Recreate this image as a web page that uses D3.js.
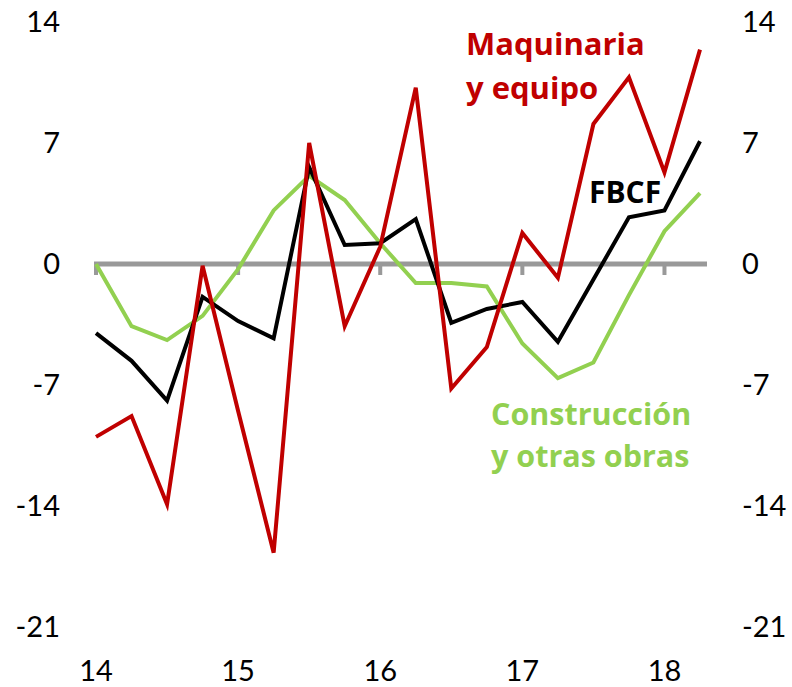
<!DOCTYPE html>
<html>
<head>
<meta charset="utf-8">
<script src="https://cdn.jsdelivr.net/npm/d3@7"></script>
<style>
  body { margin: 0; background: #fff; }
  text { font-family: Lato, "Open Sans", sans-serif; }
  .lbl { font-family: "Open Sans", Lato, sans-serif; }
</style>
</head>
<body>
<div id="chart"></div>
<script>
// quarters 2014Q1 .. 2018Q2
var quarters = ["14T1","14T2","14T3","14T4","15T1","15T2","15T3","15T4",
                "16T1","16T2","16T3","16T4","17T1","17T2","17T3","17T4","18T1","18T2"];
var maquinaria = [-10.0, -8.8, -13.9, -0.1, -8.5, -16.7, 7.0, -3.6, 1.0, 10.2,
                  -7.2, -4.8, 1.8, -0.8, 8.1, 10.8, 5.3, 12.4];
var fbcf = [-4.0, -5.6, -7.9, -1.9, -3.3, -4.3, 5.6, 1.1, 1.2, 2.6,
            -3.4, -2.6, -2.2, -4.5, -0.9, 2.7, 3.1, 7.1];
var construccion = [0.0, -3.6, -4.4, -3.0, -0.3, 3.1, 5.1, 3.7, 1.2, -1.1,
                    -1.1, -1.3, -4.6, -6.6, -5.7, -1.8, 1.9, 4.1];
var yearLabels = ["14", "15", "16", "17", "18"];
var yTicks = [14, 7, 0, -7, -14, -21];

const width = 792, height = 687;

const svg = d3.select("#chart")
    .append("svg")
    .attr("width", width)
    .attr("height", height);

// scales
const x = d3.scalePoint()
    .domain(d3.range(quarters.length))
    .range([96, 700]);

const y = d3.scaleLinear()
    .domain([-21, 14])
    .range([627, 22]);

// zero axis with year ticks
svg.append("line")
    .attr("x1", 94).attr("x2", 707)
    .attr("y1", y(0)).attr("y2", y(0))
    .attr("stroke", "#999").attr("stroke-width", 5);

svg.append("g")
    .selectAll("line")
    .data(yearLabels)
    .enter()
    .append("line")
    .attr("x1", (d, i) => x(i * 4))
    .attr("x2", (d, i) => x(i * 4))
    .attr("y1", y(0))
    .attr("y2", y(0) + 11)
    .attr("stroke", "#999")
    .attr("stroke-width", 4);

// y labels both sides
svg.append("g")
    .selectAll("text")
    .data(yTicks)
    .enter()
    .append("text")
    .attr("x", 60)
    .attr("y", d => y(d))
    .attr("dy", "0.36em")
    .attr("text-anchor", "end")
    .attr("font-size", 29)
    .text(d => d);

svg.append("g")
    .selectAll("text")
    .data(yTicks)
    .enter()
    .append("text")
    .attr("x", 742)
    .attr("y", d => y(d))
    .attr("dy", "0.36em")
    .attr("text-anchor", "start")
    .attr("font-size", 29)
    .text(d => d);

// x labels
svg.append("g")
    .selectAll("text")
    .data(yearLabels)
    .enter()
    .append("text")
    .attr("x", (d, i) => x(i * 4))
    .attr("y", 681)
    .attr("text-anchor", "middle")
    .attr("font-size", 29)
    .text(d => d);

// lines
const line = d3.line()
    .x((d, i) => x(i))
    .y(d => y(d));

const series = [
    {values: construccion, color: "#92D050"},
    {values: fbcf, color: "#000000"},
    {values: maquinaria, color: "#C00000"}
];

svg.append("g")
    .selectAll("path")
    .data(series)
    .enter()
    .append("path")
    .attr("d", d => line(d.values))
    .attr("fill", "none")
    .attr("stroke", d => d.color)
    .attr("stroke-width", 4);

// series labels
const labels = [
    {text: "Maquinaria", x: 466, y: 55, color: "#C00000", size: 31},
    {text: "y equipo", x: 466, y: 99, color: "#C00000", size: 31},
    {text: "FBCF", x: 589, y: 203, color: "#000000", size: 30},
    {text: "Construcción", x: 491, y: 425, color: "#92D050", size: 30.5},
    {text: "y otras obras", x: 491, y: 467, color: "#92D050", size: 30.5}
];

svg.append("g")
    .selectAll("text")
    .data(labels)
    .enter()
    .append("text")
    .attr("class", "lbl")
    .attr("x", d => d.x)
    .attr("y", d => d.y)
    .attr("fill", d => d.color)
    .attr("font-weight", "bold")
    .attr("font-size", d => d.size)
    .text(d => d.text);
</script>
</body>
</html>
